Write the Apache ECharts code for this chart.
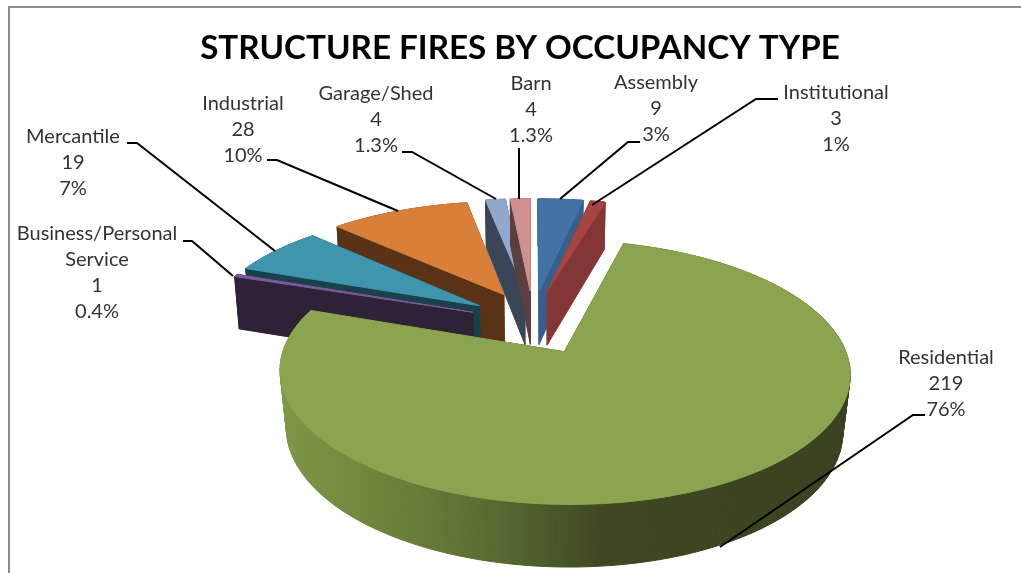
<!DOCTYPE html>
<html>
<head>
<meta charset="utf-8">
<style>html,body{margin:0;padding:0;background:#fff}#c{width:1021px;height:573px;filter:blur(0.35px)}</style>
<script src="https://cdn.jsdelivr.net/npm/echarts@6/dist/echarts.min.js"></script>
</head>
<body>
<div id="c"></div>
<script>
// ---- data, clockwise from the first slice angle
const categories = ['Residential','Business/Personal\nService','Mercantile','Industrial','Garage/Shed','Barn','Assembly','Institutional'];
const values = [219,1,19,28,4,4,9,3];
const percents = ['76%','0.4%','7%','10%','1.3%','1.3%','3%','1%'];

// ---- styles, per category
const topColors = ['#8aa44f','#7b5a9e','#3f95ae','#d8803a','#93a8cf','#cf9090','#4472a6','#a54542'];
const wallColors = ['#3b4321','#2d2236','#1a404b','#5a3316','#3a4558','#5c3e3e','#375f8c','#843535'];
// paint order: back slices first, the front slice last
const paintOrder = [4,5,6,7,3,2,1,0];
// wall shading of the front slice, left to right across the canvas
const shade = {
  type: 'linear', global: true, x: 281, y: 0, x2: 853, y2: 0,
  colorStops: [
    { offset: 0, color: '#7f9748' }, { offset: 0.21, color: '#6a8039' },
    { offset: 0.38, color: '#566a31' }, { offset: 0.56, color: '#3e4821' }, { offset: 1, color: '#3a4120' }
  ]
};

// ---- label layout: centre x, first-line y, leader path
const labelLayout = [
  {x:946,y:358,path:[[925,415],[913,415],[720,547]]},
  {x:97,y:234,path:[[183,241],[192,241],[233,276]]},
  {x:73,y:137,path:[[127,143],[137,143],[275,251]]},
  {x:243,y:104,path:[[267,160],[277,160],[398,211]]},
  {x:376,y:94,path:[[402,152],[412,152],[496,199]]},
  {x:531,y:84,path:[[519,148],[519,199]]},
  {x:656,y:83,path:[[640,142],[628,142],[560,199]]},
  {x:836,y:93,path:[[778,99],[756,99],[592,205]]}
];

// ---- view of the tilted disc
const START = 15, K = 0.147, A = 116.7, B = 272, CX = 533, CY = 324, EX_U = 0.24, EX_V = 0.295;
const total = values.reduce((s, v) => s + v, 0);
const starts = [];
values.reduce((s, v, i) => { starts[i] = s; return s + v; }, 0);

function project(u, v) {
  const d = 1 - K * v;
  return [CX + B * u / d, CY + A * v / d];
}
function rad(d) { return d * Math.PI / 180; }

function sliceShapes(idx, value, cum) {
  const a0 = START + cum / total * 360, a1 = a0 + value / total * 360, mid = (a0 + a1) / 2;
  const isFront = idx === 0;
  const ou = EX_U * Math.sin(rad(mid));
  const ov = isFront ? 0.23 : -EX_V * Math.cos(rad(mid));
  const rv = isFront ? 1.03 : 0.98;
  const sx = isFront ? 0.976 : 0.985;
  const bottomOf = (u, v) => {
    const p = project(u, v);
    return [540 + (p[0] - 540) * sx, p[1] + 55 + 6 * v];
  };
  const uv = a => [ou + Math.sin(rad(a)), ov - rv * Math.cos(rad(a))];
  const arc = (p, q) => {
    const n = Math.max(2, Math.ceil(Math.abs(q - p) / 1.5)), out = [];
    for (let i = 0; i <= n; i++) out.push(uv(p + (q - p) * i / n));
    return out;
  };
  const poly = (points, fill) => ({
    type: 'polygon', shape: { points }, silent: true,
    style: { fill, stroke: fill, lineWidth: 1 }
  });
  const quad = (p, q) => [project(p[0], p[1]), project(q[0], q[1]), bottomOf(q[0], q[1]), bottomOf(p[0], p[1])];
  const strip = (pts, fill) => {
    const out = [];
    for (let i = 0; i < pts.length - 1; i++) out.push(poly(quad(pts[i], pts[i + 1]), fill));
    return out;
  };
  const wc = wallColors[idx];
  let shapes = [];
  // outer wall behind the cuts
  const backEnd = Math.min(a1, 80);
  if (a0 < backEnd) shapes = shapes.concat(strip(arc(a0, backEnd), wc));
  if (a1 > 360) shapes = shapes.concat(strip(arc(Math.max(a0, 360), a1), wc));
  // cut faces
  const left = poly(quad([ou, ov], uv(a1)), wc), right = poly(quad([ou, ov], uv(a0)), wc);
  if (Math.sin(rad(mid)) > 0) shapes.push(left, right); else shapes.push(right, left);
  // outer wall in front of the cuts
  if (a1 > 80 && a0 < 360) {
    shapes = shapes.concat(strip(arc(Math.max(a0, 80), Math.min(a1, 360)), isFront ? shade : wc));
  }
  // top face
  const top = [project(ou, ov)].concat(arc(a0, a1).map(x => project(x[0], x[1])));
  shapes.push(poly(top, topColors[idx]));
  return shapes;
}

const sliceData = paintOrder.map(i => ({ value: [i, values[i], starts[i]], name: categories[i] }));
const labelData = categories.map((c, i) => ({ value: [i], name: c }));

const option = {
  animation: false,
  backgroundColor: '#fff',
  title: {
    text: 'STRUCTURE FIRES BY OCCUPANCY TYPE',
    left: 515, top: 27, textAlign: 'center',
    textStyle: { fontFamily: 'Lato', fontWeight: 'bold', fontSize: 33.2, color: '#000' }
  },
  graphic: [
    { type: 'line', shape: { x1: 8, y1: 7, x2: 1021, y2: 7 }, style: { stroke: '#8c8c8c', lineWidth: 2 } },
    { type: 'line', shape: { x1: 9, y1: 7, x2: 9, y2: 573 }, style: { stroke: '#8c8c8c', lineWidth: 2 } }
  ],
  series: [
    {
      type: 'custom', coordinateSystem: 'none', silent: true, z: 2,
      data: sliceData,
      renderItem: (params, api) => ({
        type: 'group',
        children: sliceShapes(api.value(0), api.value(1), api.value(2))
      })
    },
    {
      type: 'custom', coordinateSystem: 'none', silent: true, z: 3,
      data: labelData,
      renderItem: (params, api) => {
        const i = api.value(0), l = labelLayout[i];
        const lines = categories[i].split('\n').concat([String(values[i]), percents[i]]);
        const children = [{
          type: 'polyline', shape: { points: l.path },
          style: { stroke: '#000', lineWidth: 2, fill: 'none' }
        }];
        lines.forEach((t, k) => children.push({
          type: 'text',
          style: { text: t, x: l.x, y: l.y + k * 25.7, align: 'center', verticalAlign: 'middle',
            fontFamily: 'Lato', fontSize: 20, fill: '#333' }
        }));
        return { type: 'group', children };
      }
    }
  ]
};
echarts.init(document.getElementById('c'), null, { renderer: 'canvas' }).setOption(option);
</script>
</body>
</html>
